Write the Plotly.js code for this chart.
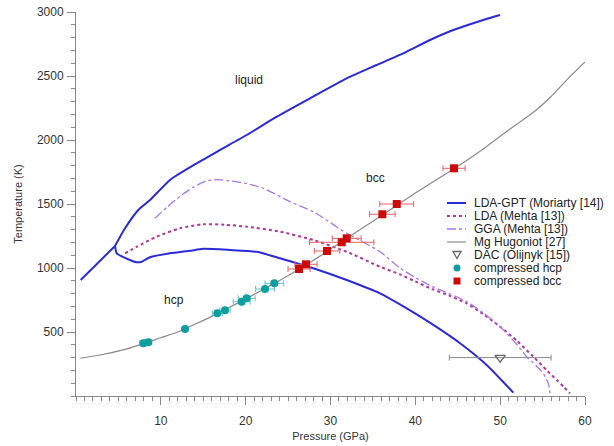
<!DOCTYPE html>
<html><head><meta charset="utf-8">
<script src="https://cdn.plot.ly/plotly-3.0.1.min.js"></script>
<style>html,body{margin:0;padding:0;background:#fff}#chart{width:614px;height:446px}</style>
</head><body><div id="chart"></div>
<script>
// LDA-GPT (Moriarty) melting curve: hcp branch and bcc branch (meet at triple point)
const meltHcpP = [0.55, 4.60];
const meltHcpT = [906, 1172];
const meltBccP = [4.60, 5.78, 7.34, 8.72, 11.08, 14.23, 16.98, 20.12, 23.66, 27.58, 31.91, 35.45, 38.58, 41.73, 44.48, 48.01, 49.98];
const meltBccT = [1172, 1310, 1453, 1531, 1688, 1818, 1922, 2039, 2182, 2326, 2482, 2586, 2677, 2781, 2859, 2938, 2977];
// LDA-GPT hcp-bcc boundary
const bndP = [4.60, 4.80, 6.57, 7.16, 7.74, 8.72, 11.08, 13.44, 15.01, 18.15, 21.30, 24.05, 27.97, 31.91, 35.84, 38.19, 42.12, 45.27, 48.41, 51.55];
const bndT = [1172, 1115, 1057, 1045, 1049, 1084, 1115, 1135, 1150, 1141, 1127, 1076, 998, 906, 802, 715, 555, 412, 242, 26];
// LDA (Mehta)
const ldaP = [5.78, 7.16, 9.51, 12.26, 15.0, 17.5, 20.12, 24.05, 27.97, 31.91, 35.84, 38.19, 40, 42, 44, 46, 48, 50, 52, 53.91, 55.5, 56.67, 57.5, 58.23];
const ldaT = [1115, 1166, 1245, 1310, 1342, 1338, 1323, 1284, 1219, 1127, 1010, 950, 895, 835, 785, 725, 640, 541, 430, 307, 200, 125, 70, 21];
// GGA (Mehta)
const ggaP = [9.31, 10.8, 12.26, 13.8, 15.41, 16.8, 18.15, 20.12, 22.08, 25.23, 27.97, 31.91, 35.84, 38.19, 40, 42, 44, 46.06, 48, 50, 52, 53.12, 54.2, 55.08, 55.68, 55.87];
const ggaT = [1388, 1480, 1560, 1630, 1682, 1690, 1680, 1660, 1623, 1518, 1440, 1271, 1127, 1000, 925, 855, 800, 737, 650, 541, 400, 307, 240, 177, 99, 21];
// Mg Hugoniot
const hugP = [0.5, 3, 6, 8, 10, 12, 14, 16, 18, 20, 22, 24, 26, 28, 30, 32, 34, 36, 38, 40, 42, 44, 46, 48, 50, 52, 54, 56, 58, 60];
const hugT = [295, 322, 368, 410, 455, 500, 560, 622, 690, 758, 830, 903, 978, 1060, 1148, 1235, 1322, 1410, 1498, 1585, 1670, 1752, 1838, 1930, 2030, 2125, 2220, 2340, 2480, 2610];
// DAC (Olijnyk)
const dacP = [50];
const dacT = [300];
const dacErr = [6];
// compressed hcp
const hcpP = [7.93, 8.52, 12.85, 16.66, 17.56, 19.53, 20.12, 22.28, 23.38];
const hcpT = [412, 420, 523, 646, 670, 737, 763, 836, 880];
const hcpErr = [0.4, 0.4, 0.3, 0.6, 0.6, 1.0, 1.0, 1.1, 1.1];
// compressed bcc
const bccP = [26.29, 27.11, 29.59, 31.32, 31.91, 36.11, 37.81, 44.56];
const bccT = [992, 1029, 1133, 1201, 1232, 1420, 1500, 1779];
const bccErr = [1.3, 1.3, 1.5, 3.8, 1.7, 1.5, 2.0, 1.3];

const xTicks = [10, 20, 30, 40, 50, 60];
const yTicks = [500, 1000, 1500, 2000, 2500, 3000];

const legendNames = ['LDA-GPT (Moriarty [14])', 'LDA (Mehta [13])', 'GGA (Mehta [13])', 'Mg Hugoniot [27]', 'DAC (Olijnyk [15])', 'compressed hcp', 'compressed bcc'];
const regionLabels = ['liquid', 'bcc', 'hcp'];
const regionP = [20.4, 35.36, 11.55];
const regionT = [2469, 1703, 750];

const BLUE = '#2a2ad6', LDA_C = '#b0359a', GGA_C = '#a877ea', HUG_C = '#8a8a8a';
const TEAL = '#0f9e9e', RED = '#cc0a0a';

const blueLine = {color: BLUE, width: 2, shape: 'spline', smoothing: 0.5};
const traces = [
  {x: meltHcpP, y: meltHcpT, mode: 'lines', name: legendNames[0], line: blueLine},
  {x: meltBccP, y: meltBccT, mode: 'lines', name: legendNames[0], line: blueLine},
  {x: bndP, y: bndT, mode: 'lines', name: legendNames[0], line: blueLine},
  {x: ldaP, y: ldaT, mode: 'lines', name: legendNames[1], line: {color: LDA_C, width: 2, dash: 'dot', shape: 'spline', smoothing: 0.6}},
  {x: ggaP, y: ggaT, mode: 'lines', name: legendNames[2], line: {color: GGA_C, width: 1.3, dash: 'dashdot', shape: 'spline', smoothing: 0.6}},
  {x: hugP, y: hugT, mode: 'lines', name: legendNames[3], line: {color: HUG_C, width: 1.2, shape: 'spline', smoothing: 0.6}},
  {x: dacP, y: dacT, mode: 'markers', name: legendNames[4],
   marker: {symbol: 'triangle-down-open', size: 9, color: '#666', line: {width: 1.3, color: '#666'}},
   error_x: {type: 'data', array: dacErr, color: '#888', thickness: 1, width: 3}},
  {x: hcpP, y: hcpT, mode: 'markers', name: legendNames[5],
   marker: {symbol: 'circle', size: 8, color: TEAL},
   error_x: {type: 'data', array: hcpErr, color: '#5cc4c4', thickness: 1, width: 3}},
  {x: bccP, y: bccT, mode: 'markers', name: legendNames[6],
   marker: {symbol: 'square', size: 8, color: RED},
   error_x: {type: 'data', array: bccErr, color: '#e66060', thickness: 1, width: 3}}
];

// custom compact legend (pixel -> paper)
const L = 76, W = 509, B = 396, H = 384;
const px = v => (v - L) / W, py = v => (B - v) / H;
const rowY = [203, 216, 229, 242, 255, 268, 281];
const shapes = [];
const annotations = [];
const lineStyles = [
  {color: BLUE, width: 2, dash: 'solid'},
  {color: LDA_C, width: 2, dash: 'dot'},
  {color: GGA_C, width: 1.3, dash: 'dashdot'},
  {color: HUG_C, width: 1.2, dash: 'solid'}
];
lineStyles.forEach((ls, i) => {
  shapes.push({type: 'line', xref: 'paper', yref: 'paper', x0: px(447), x1: px(466), y0: py(rowY[i]), y1: py(rowY[i]), line: ls});
});
shapes.push({type: 'path', xref: 'paper', yref: 'paper',
  path: `M ${px(453)} ${py(rowY[4]-3.5)} L ${px(461)} ${py(rowY[4]-3.5)} L ${px(457)} ${py(rowY[4]+3.5)} Z`,
  line: {color: '#666', width: 1.3}, fillcolor: 'rgba(0,0,0,0)'});
shapes.push({type: 'circle', xref: 'paper', yref: 'paper', x0: px(453.5), x1: px(460.5), y0: py(rowY[5]-3.5), y1: py(rowY[5]+3.5), line: {width: 0}, fillcolor: TEAL});
shapes.push({type: 'rect', xref: 'paper', yref: 'paper', x0: px(453.5), x1: px(460.5), y0: py(rowY[6]-3.5), y1: py(rowY[6]+3.5), line: {width: 0}, fillcolor: RED});
legendNames.forEach((n, i) => {
  annotations.push({xref: 'paper', yref: 'paper', x: px(472), y: py(rowY[i]), text: n, showarrow: false,
    xanchor: 'left', yanchor: 'middle', font: {size: 12, color: '#222'}});
});
regionLabels.forEach((t, i) => {
  annotations.push({x: regionP[i], y: regionT[i], text: t, showarrow: false, font: {size: 12, color: '#222'}});
});

const axisCommon = {
  ticks: 'outside', ticklen: 8, tickcolor: '#888', tickwidth: 1,
  showline: true, linecolor: '#888', linewidth: 1, showgrid: false, zeroline: false,
  tickfont: {size: 12, color: '#333'}, automargin: false
};

const layout = {
  width: 614, height: 446,
  margin: {l: L, r: 614 - L - W, t: 12, b: 446 - B},
  paper_bgcolor: '#fff', plot_bgcolor: '#fff',
  showlegend: false,
  font: {family: 'Liberation Sans, Arial, Helvetica, sans-serif', size: 12, color: '#333'},
  xaxis: Object.assign({}, axisCommon, {
    range: [0, 60], tickmode: 'array', tickvals: xTicks, ticklabelstandoff: 6,
    minor: {tick0: 0, dtick: 1, ticks: 'outside', ticklen: 4, tickcolor: '#888', showgrid: false},
    title: {text: 'Pressure (GPa)', font: {size: 11, color: '#333'}, standoff: 4}
  }),
  yaxis: Object.assign({}, axisCommon, {
    range: [0, 3000], tickmode: 'array', tickvals: yTicks, ticklabelstandoff: 1,
    minor: {tick0: 0, dtick: 100, ticks: 'outside', ticklen: 4, tickcolor: '#888', showgrid: false},
    title: {text: 'Temperature (K)', font: {size: 11, color: '#333'}, standoff: 12}
  }),
  shapes: shapes,
  annotations: annotations
};

Plotly.newPlot('chart', traces, layout, {staticPlot: true, displayModeBar: false});
</script></body></html>
